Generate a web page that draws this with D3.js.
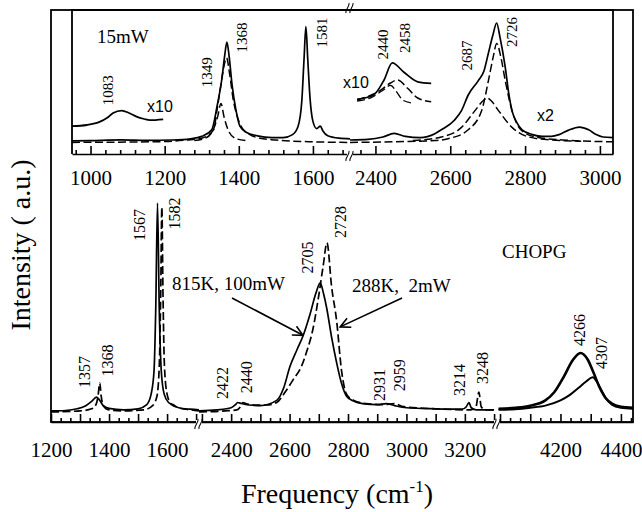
<!DOCTYPE html>
<html>
<head>
<meta charset="utf-8">
<title>CHOPG Raman spectra</title>
<script src="https://d3js.org/d3.v7.min.js"></script>
<style>
body { margin: 0; background: #fff; }
.axis path, .axis line { stroke: #000; stroke-width: 1.6; }
</style>
</head>
<body>
<script>
// ---- values (frequency cm-1, intensity a.u.) ----
var mainDomains = [[1200, 1710], [2290, 3310], [3990, 4440]];
var insetDomains = [[950, 1700], [2332, 3035]];
var mainTickLabels = [1200, 1400, 1600, 2400, 2600, 2800, 3000, 3200, 4200, 4400];
var insetTickLabels = [1000, 1200, 1400, 1600, 2400, 2600, 2800, 3000];

// 815K, 100mW (solid)
var hot815K = [[1200,1],[1250,1.2],[1290,2],[1320,3.5],[1340,5.5],[1357,7.6],[1368,6],[1380,3.5],[1400,2.2],[1450,1.5],[1500,2],
  [1530,4],[1545,9],[1555,20],[1561,50],[1567,100],[1573,50],[1580,20],[1590,9],[1605,5],[1620,4],[1640,2.5],[1680,1.8],[1710,1.5],
  [2290,1],[2350,1.5],[2400,2.5],[2415,4],[2422,5],[2435,4.5],[2460,3.8],[2500,3.5],[2556,6],[2580,12],[2601,22],[2625,30],
  [2647,37],[2670,47],[2690,57],[2705,62],[2716,57],[2727,50],[2744,36],[2761,24],[2778,14],[2795,8],[2815,6],[2850,4.5],
  [2900,4],[2931,4.5],[2960,3.5],[3000,2.5],[3100,2],[3190,1.8],[3205,3],[3214,5],[3222,2.5],[3240,1.5],[3300,1.5]];
// 288K, 2mW (dashed)
var cold288K = [[1200,0.5],[1300,1],[1340,2],[1355,4],[1362,8],[1368,14.3],[1373,8],[1380,3.5],[1400,1.5],[1450,1],[1520,1.5],
  [1550,3.5],[1565,8],[1573,22],[1578,56],[1582,98],[1586,56],[1591,22],[1600,9],[1615,4],[1640,2.5],[1680,1.5],[1710,1],
  [2290,0.5],[2380,1],[2420,1.5],[2432,3],[2440,5],[2450,4.5],[2480,3.8],[2520,3.8],[2556,5],[2585,10],[2613,16],[2640,22],
  [2658,29],[2680,40],[2700,56],[2715,70],[2728,81],[2744,60],[2761,44],[2778,20],[2795,9],[2820,6],[2860,4.5],[2920,4],
  [2959,4.5],[2990,3],[3100,2],[3220,1.5],[3238,3],[3248,10],[3256,3],[3270,1.5],[3300,1.5]];
// overtone region
var overtone815K = [[3995,2],[4050,2.5],[4100,3.5],[4150,6],[4180,10],[4210,17],[4240,25],[4266,28.6],[4290,25.5],[4310,19],
  [4330,12],[4350,7],[4370,4.5],[4400,3],[4440,2.5]];
var overtone288K = [[3995,1.5],[4050,1.8],[4100,2.5],[4150,3.5],[4200,6],[4230,8.5],[4260,12],[4285,15],[4307,17],[4320,15],
  [4335,11],[4350,7],[4370,4],[4400,2.5],[4440,2]];

// inset, 15mW
var inset15mW = [[950,1.7],[1000,2],[1083,2.6],[1150,2.2],[1220,2.5],[1270,3.5],[1300,5.5],[1327,11],[1341,30],[1355,55],
  [1362,73],[1368,84],[1374,72],[1382,48],[1392,28],[1403,14],[1420,9],[1450,6],[1490,4.5],[1520,4.5],[1545,7],[1560,14],
  [1570,35],[1576,70],[1581,97],[1586,70],[1592,38],[1600,18],[1610,12],[1620,14],[1627,10],[1640,6],[1670,4],[1700,3.5],
  [2332,2.5],[2380,3],[2420,5],[2450,8],[2480,5.5],[2520,4.5],[2560,8],[2576,11],[2611,19],[2630,27],[2648,40],[2675,52],
  [2690,60],[2702,75],[2714,90],[2724,100],[2733,88],[2747,63],[2756,42],[2765,27],[2778,17],[2792,11],[2820,7],[2846,5.5],
  [2870,5.5],[2891,7],[2915,10.5],[2945,13.3],[2970,11],[2990,7],[3008,5],[3035,4.5]];
var fit1368 = [[950,0.5],[1100,0.8],[1200,1.2],[1260,2.5],[1300,4],[1332,11],[1341,27],[1350,45],[1360,64],[1367,71],[1375,58],
  [1385,36],[1396,22],[1408,13],[1430,7],[1457,4],[1500,2.5],[1600,1],[1700,0.5]];
var fit1349 = [[1280,2],[1310,4],[1331,11],[1343,22],[1352,33],[1360,22],[1371,11],[1390,4],[1420,2]];
var fit2726 = [[2332,0.5],[2450,1],[2560,2],[2600,4],[2648,11],[2684,27],[2702,52],[2715,72],[2724,83],[2735,72],[2747,52],
  [2765,27],[2792,10],[2830,5],[2900,2.5],[3035,1]];
var fit2687 = [[2500,2],[2576,5],[2630,13],[2666,27],[2687,35],[2699,37.5],[2710,35],[2729,27],[2765,13],[2810,5],[2870,2.5],[2950,1.5]];
var zoom1083x10 = [[950,14],[990,15],[1026,17.8],[1045,21],[1061,25],[1084,27],[1104,25],[1124,22],[1145,20],[1160,19],[1196,19.7]];
var zoom2440x10 = [[2351,36.4],[2395,40],[2423,52.5],[2445,66.7],[2476,59],[2513,51],[2549,49.7]];
var fit2458x10 = [[2351,36],[2414,44],[2440,50],[2459,52.5],[2486,45.6],[2513,37.5],[2549,34.4]];
var fit2440x10 = [[2351,35],[2390,38],[2420,44],[2440,48],[2458,42],[2472,36],[2495,33.5]];

var mainPeakLabels = [1357, 1368, 1567, 1582, 2422, 2440, 2705, 2728, 2931, 2959, 3214, 3248, 4266, 4307];
var insetPeakLabels = [1083, 1349, 1368, 1581, 2440, 2458, 2687, 2726];

// ---- layout ----
var width = 642, height = 512;
var serif = "'Liberation Serif', 'DejaVu Serif', 'Times New Roman', Times, serif";
var sans = "'Liberation Sans', Arial, Helvetica, sans-serif";
var mainRanges = [[51, 199], [199, 497], [497, 633]];
var insetRanges = [[72, 350], [350, 613]];
var frame = {left: 51, right: 633, top: 10, bottom: 422};
var inset = {left: 72, right: 613, top: 10, bottom: 154};

var mainX = mainDomains.map(function(d, i) { return d3.scaleLinear().domain(d).range(mainRanges[i]); });
var insetX = insetDomains.map(function(d, i) { return d3.scaleLinear().domain(d).range(insetRanges[i]); });
var mainY = d3.scaleLinear().domain([0, 100]).range([413, 203]);
var insetY = d3.scaleLinear().domain([0, 100]).range([143, 23]);

function pick(scales, f) {
  for (var i = 0; i < scales.length; i++) {
    var d = scales[i].domain();
    if (f >= d[0] - 60 && f <= d[1] + 60) return scales[i];
  }
  return scales[scales.length - 1];
}
function at(scales, f) { return pick(scales, f)(f); }

var svg = d3.select("body").append("svg").attr("width", width).attr("height", height)
  .attr("font-family", serif);

function label(x, y, size, txt, family) {
  return svg.append("text").attr("x", x).attr("y", y)
    .style("font-family", family || serif).style("font-size", size + "px")
    .style("white-space", "pre").attr("fill", "#000").text(txt);
}

// draw a spectrum split over the broken axis
function spectrum(data, scales, y, dashed, sw) {
  scales.forEach(function(sc) {
    var d = sc.domain();
    var pts = data.filter(function(p) { return p[0] >= d[0] && p[0] <= d[1]; });
    if (pts.length < 2) return;
    var line = d3.line().x(function(p) { return sc(p[0]); }).y(function(p) { return y(p[1]); }).curve(d3.curveMonotoneX);
    svg.append("path").datum(pts).attr("d", line)
      .attr("fill", "none").attr("stroke", "#000").attr("stroke-width", sw || 1.6)
      .attr("stroke-linejoin", "round")
      .attr("stroke-dasharray", dashed ? "8,3.5" : null);
  });
}

// frames
svg.append("rect").attr("x", frame.left).attr("y", frame.top)
  .attr("width", frame.right - frame.left).attr("height", frame.bottom - frame.top)
  .attr("fill", "none").attr("stroke", "#000").attr("stroke-width", 1.8);
svg.append("path")
  .attr("d", "M" + inset.left + "," + inset.bottom + "V" + inset.top + "H" + inset.right + "V" + inset.bottom)
  .attr("fill", "none").attr("stroke", "#000").attr("stroke-width", 1.8);

// axes: labelled ticks + minor ticks pointing up
function brokenAxis(scales, yPos, labels, step, bigEvery, pad) {
  scales.forEach(function(sc) {
    var d = sc.domain();
    var vals = d3.range(Math.ceil(d[0] / step) * step, d[1] + 0.01, step);
    var g = svg.append("g").attr("class", "axis").attr("transform", "translate(0," + yPos + ")");
    g.call(d3.axisBottom(sc).tickValues(vals).tickSizeOuter(0).tickPadding(pad)
      .tickSizeInner(-4)
      .tickFormat(function(v) { return labels.indexOf(Math.round(v)) >= 0 && Math.abs(v - Math.round(v)) < 0.01 ? d3.format("d")(v) : ""; }));
    g.attr("font-family", null);
    g.selectAll(".tick text").style("font-family", serif).style("font-size", "21px").attr("fill", "#000");
    g.selectAll(".tick line").attr("y2", function(v) {
      return Math.abs(v / bigEvery - Math.round(v / bigEvery)) < 0.001 ? -8 : -4;
    });
  });
}
brokenAxis(insetX, inset.bottom, insetTickLabels, 40, 200, 16);
brokenAxis(mainX, frame.bottom, mainTickLabels, 100 / 3, 100, 20);

// break marks
function breakMark(x, y) {
  svg.append("rect").attr("x", x - 3).attr("y", y - 2).attr("width", 6).attr("height", 4).attr("fill", "#fff");
  [-2, 2].forEach(function(o) {
    svg.append("path")
      .attr("d", "M" + (x + o - 2) + "," + (y + 7) + "C" + (x + o - 3) + "," + (y + 3) + " " + (x + o + 2) + "," + (y + 1) + " " + (x + o + 1) + "," + (y - 3))
      .attr("fill", "none").attr("stroke", "#000").attr("stroke-width", 1.1);
  });
}
breakMark(insetRanges[0][1], inset.bottom);
breakMark(mainRanges[0][1], frame.bottom);
breakMark(mainRanges[1][1], frame.bottom);
breakMark(insetRanges[0][1], inset.top - 4);

// inset spectra
spectrum(inset15mW, insetX, insetY, false, 1.7);
spectrum(fit1368, insetX, insetY, true, 1.5);
spectrum(fit1349, insetX, insetY, true, 1.5);
spectrum(fit2726, insetX, insetY, true, 1.5);
spectrum(fit2687, insetX, insetY, true, 1.5);
spectrum(zoom1083x10, insetX, insetY, false, 1.8);
spectrum(zoom2440x10, insetX, insetY, false, 1.7);
spectrum(fit2458x10, insetX, insetY, true, 1.5);
spectrum(fit2440x10, insetX, insetY, true, 1.3);

// main spectra
spectrum(hot815K, mainX, mainY, false, 1.7);
spectrum(cold288K, mainX, mainY, true, 1.7);
spectrum(overtone815K, mainX, mainY, false, 2.6);
spectrum(overtone288K, mainX, mainY, false, 2.0);

// rotated peak labels (anchor: frequency, intensity of label centre)
var mainLabelPos = [[1317,19.5],[1396,25],[1507,89.5],[1627,95],[2372,14.3],[2454,17],[2663,74],[2776,91],
  [2909,13.3],[2978,18],[3183,15.7],[3262,21.4],[4265,39.5],[4338,28.6]];
var insetLabelPos = [[1047,44],[1314,59],[1409,88],[1624,92],[2420,82],[2479,87.5],[2645,73],[2765,92.5]];
function peakLabels(vals, pos, scales, y, size) {
  vals.forEach(function(v, i) {
    var x = at(scales, pos[i][0]), yy = y(pos[i][1]);
    svg.append("text").attr("transform", "translate(" + (x + 5) + "," + yy + ") rotate(-90)")
      .attr("text-anchor", "middle").style("font-family", serif).style("font-size", size + "px").text(v);
  });
}
peakLabels(mainPeakLabels, mainLabelPos, mainX, mainY, 16);
peakLabels(insetPeakLabels, insetLabelPos, insetX, insetY, 15);

// annotations
label(97, 43, 19, "15mW");
label(147, 112, 16, "x10", sans);
label(343, 88, 16, "x10", sans);
label(537, 121, 16, "x2", sans);
label(172, 290, 19, "815K, 100mW");
label(352, 292, 19, "288K,  2mW");
label(502, 258, 19, "CHOPG");

// arrows
svg.append("defs").append("marker").attr("id", "arr").attr("viewBox", "0 0 12 12")
  .attr("refX", 11).attr("refY", 6).attr("markerWidth", 12).attr("markerHeight", 12)
  .attr("markerUnits", "userSpaceOnUse").attr("orient", "auto")
  .append("path").attr("d", "M1,1 L11,6 L1,11").attr("fill", "none").attr("stroke", "#000").attr("stroke-width", 1.6);
[[[2403, 54.8], [2646, 37]], [[2985, 54.8], [2773, 41]]].forEach(function(a) {
  svg.append("line")
    .attr("x1", at(mainX, a[0][0])).attr("y1", mainY(a[0][1]))
    .attr("x2", at(mainX, a[1][0])).attr("y2", mainY(a[1][1]))
    .attr("stroke", "#000").attr("stroke-width", 1.6).attr("marker-end", "url(#arr)");
});

// axis titles
svg.append("text").attr("transform", "translate(30,245) rotate(-90)").attr("text-anchor", "middle")
  .style("font-family", serif).style("font-size", "28px").style("white-space", "pre").text("Intensity ( a.u.)");
var xt = svg.append("text").attr("x", 337).attr("y", 503).attr("text-anchor", "middle")
  .style("font-family", serif).style("font-size", "28px");
xt.append("tspan").text("Frequency (cm");
xt.append("tspan").attr("dy", -11).style("font-size", "17px").text("-1");
xt.append("tspan").attr("dy", 11).text(")");
</script>
</body>
</html>
